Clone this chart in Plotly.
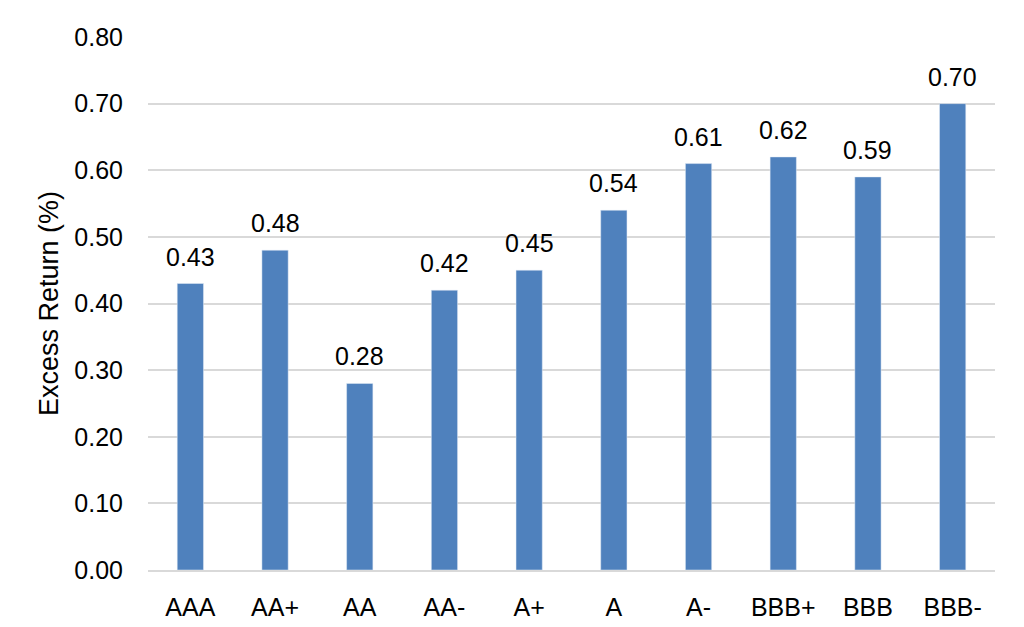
import plotly.graph_objects as go

categories = ["AAA", "AA+", "AA", "AA-", "A+", "A", "A-", "BBB+", "BBB", "BBB-"]
values = [0.43, 0.48, 0.28, 0.42, 0.45, 0.54, 0.61, 0.62, 0.59, 0.70]
y_ticks = [0.0, 0.1, 0.2, 0.3, 0.4, 0.5, 0.6, 0.7, 0.8]
y_tick_labels = ["0.00", "0.10", "0.20", "0.30", "0.40", "0.50", "0.60", "0.70", "0.80"]

font_family = "Liberation Sans, Arial, sans-serif"
FS = 25

fig = go.Figure(go.Bar(
    x=categories,
    y=values,
    marker_color="#4F81BD",
    cliponaxis=False,
))

for c, v in zip(categories, values):
    fig.add_annotation(
        x=c, y=v, text=f"{v:.2f}", showarrow=False,
        yanchor="middle", yshift=27,
        font=dict(size=FS, color="#000000", family=font_family),
    )

fig.update_layout(
    width=1024, height=627,
    margin=dict(l=148, r=29, t=37, b=57, autoexpand=False),
    paper_bgcolor="white", plot_bgcolor="white",
    bargap=0.69,
    showlegend=False,
    font=dict(family=font_family, color="#000000", size=FS),
)
fig.update_yaxes(
    range=[0, 0.8],
    tickvals=y_ticks, ticktext=y_tick_labels,
    showgrid=True, gridcolor="#D9D9D9", gridwidth=1.5,
    zeroline=False, showline=False,
    ticks="", ticklabelstandoff=24,
    tickfont=dict(size=FS),
    automargin=False,
    title=dict(text="Excess Return (%)", font=dict(size=27), standoff=7),
)
fig.update_xaxes(
    showline=True, linecolor="#D9D9D9", linewidth=1.5,
    ticks="", ticklabelstandoff=14,
    tickfont=dict(size=FS),
    automargin=False,
)

fig.write_html(
    "out.html",
    config={"displayModeBar": False},
    post_script="document.body.style.margin='0';document.body.style.overflow='hidden';",
)
